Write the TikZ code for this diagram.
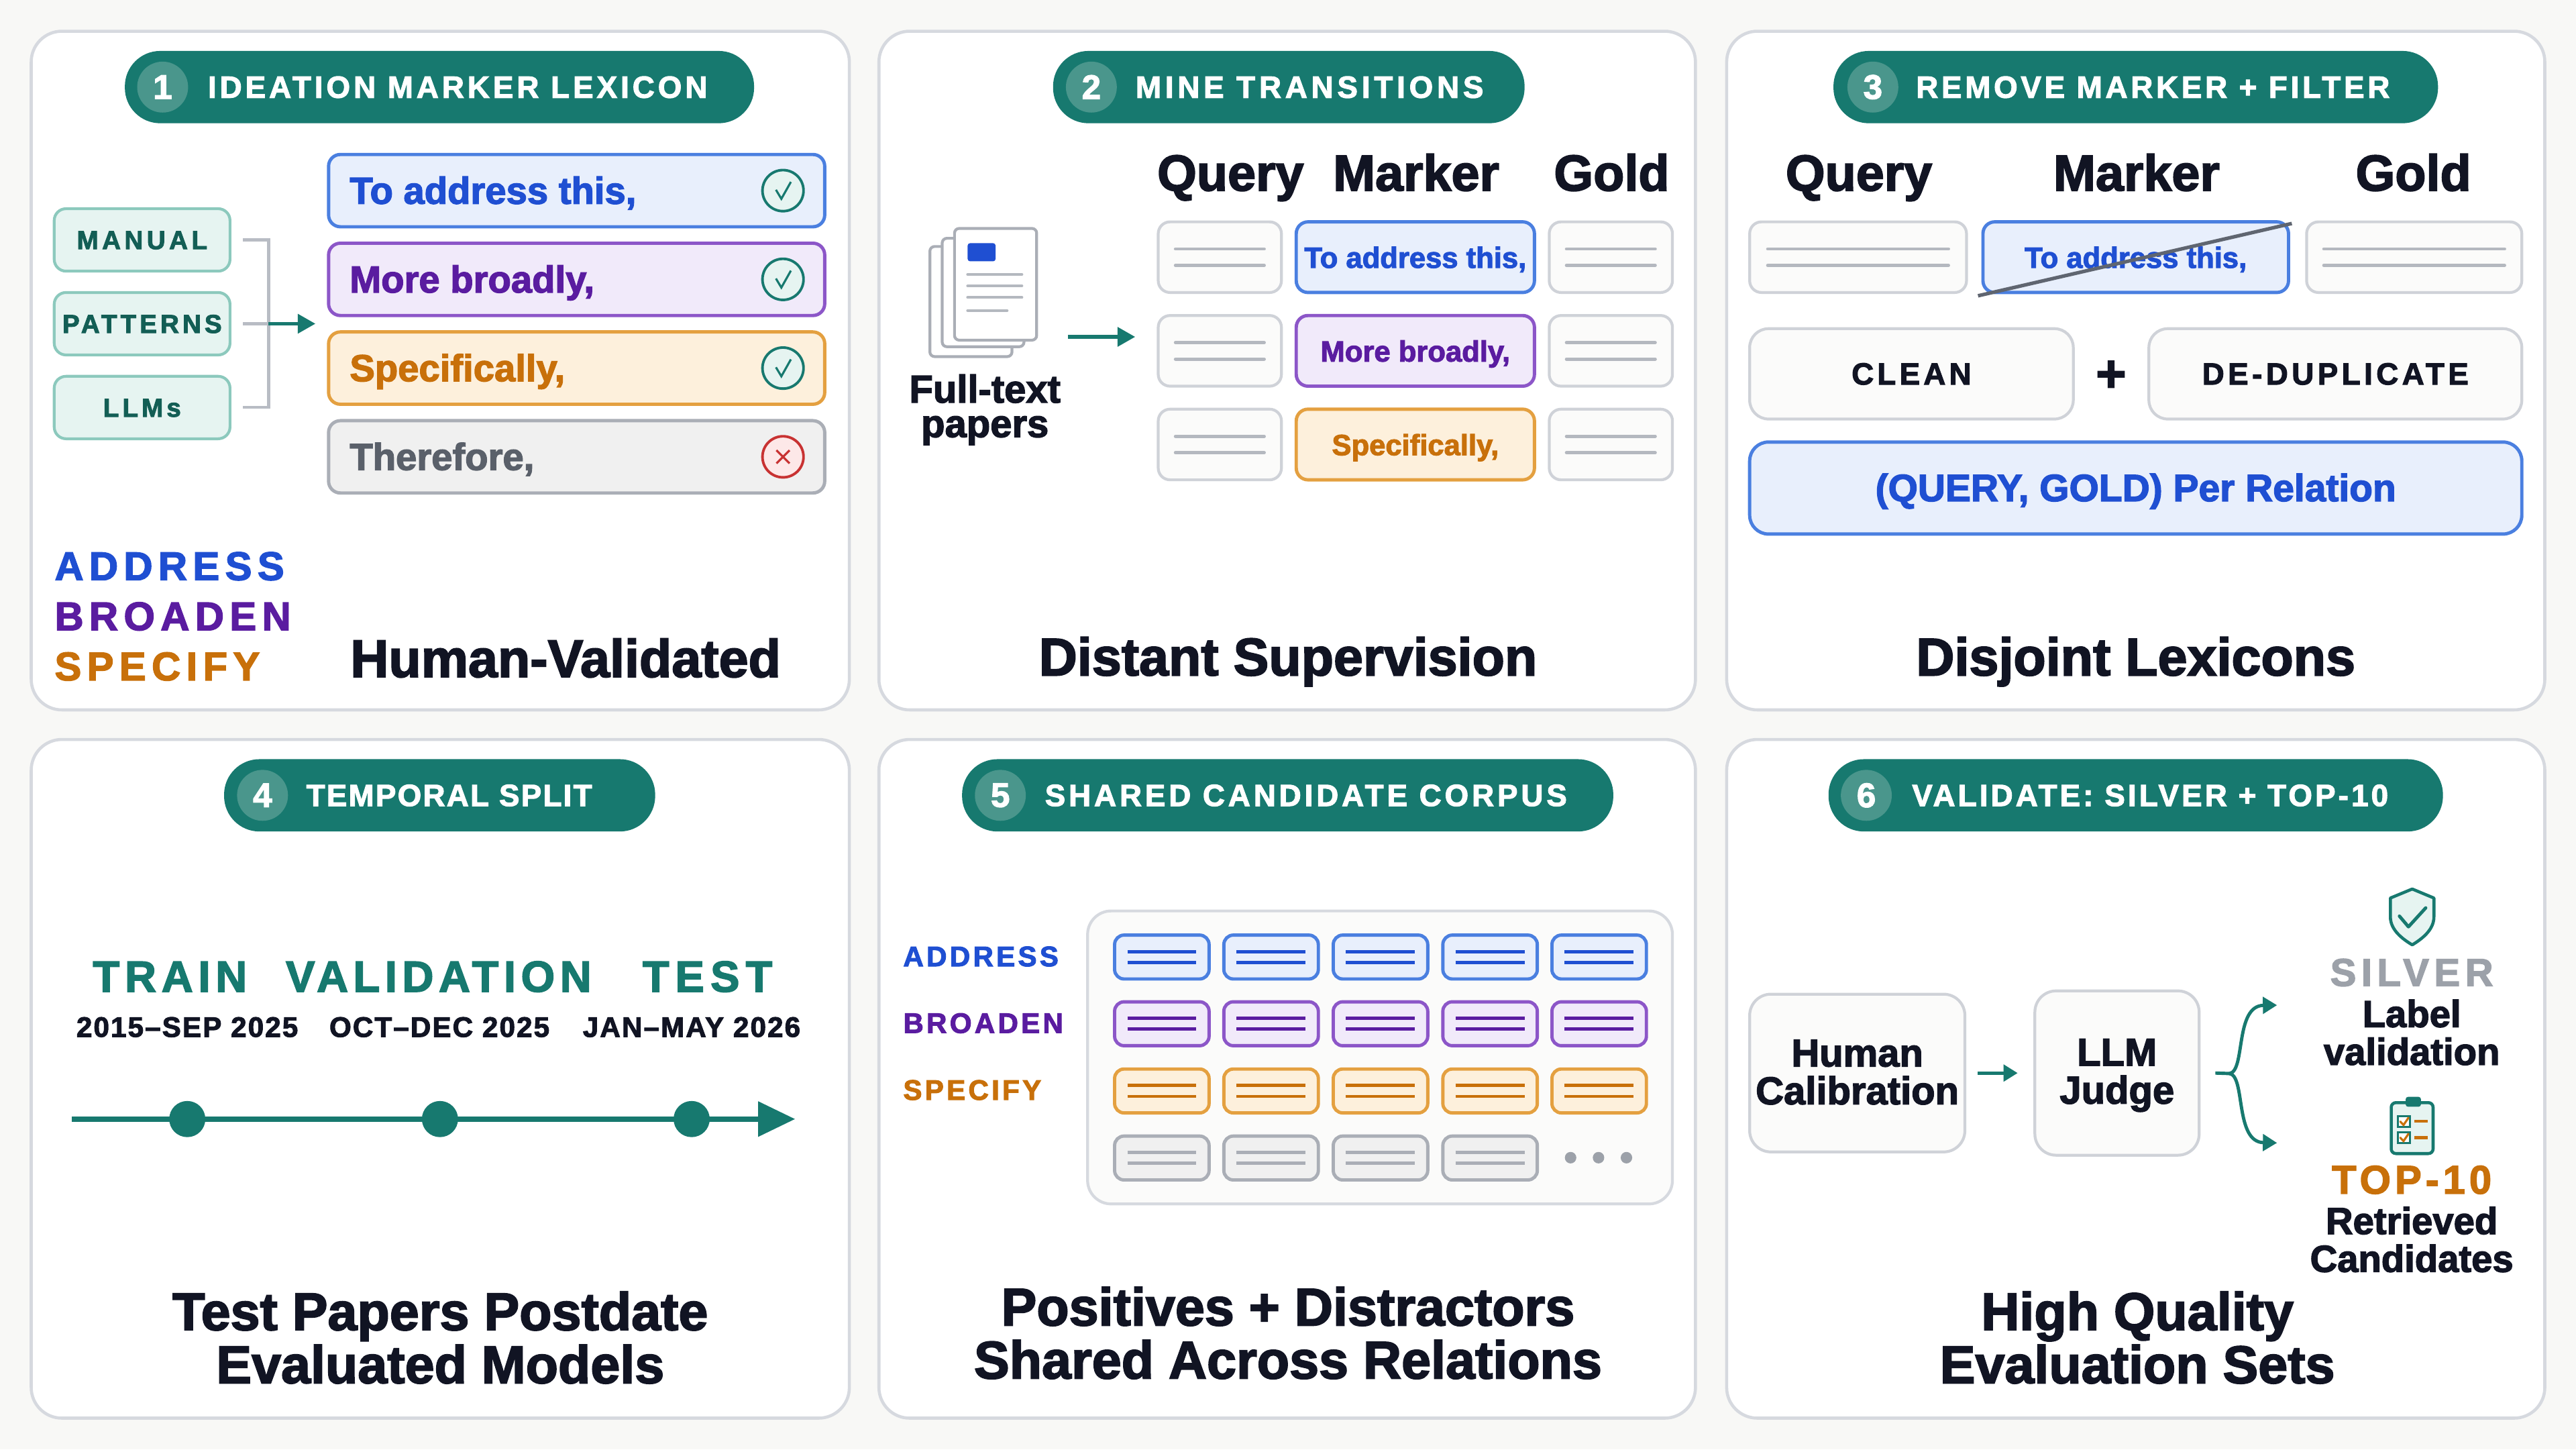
\documentclass[tikz,border=0pt]{standalone}
\usepackage{fontspec}
\setmainfont{LiberationSans}[Extension=.ttf, UprightFont=*-Regular, BoldFont=*-Bold, ItalicFont=*-Italic, BoldItalicFont=*-BoldItalic, BoldFeatures={FakeBold=2.4}]
\usetikzlibrary{arrows.meta,calc}
\newcommand\U{0.0244898cm}
\newcommand\fz[1]{\fontsize{#1}{#1}\selectfont\bfseries}
\newcommand\trk[3]{{\fontsize{#1}{#1}\selectfont\bfseries\addfontfeatures{LetterSpace=#2}#3}}
\newcommand\twol[4]{\draw[#4] ($(#1)+(-#2,-#3)$) -- ($(#1)+(#2,-#3)$) ($(#1)+(-#2,#3)$) -- ($(#1)+(#2,#3)$);}
\definecolor{teal1}{RGB}{23,121,111}
\definecolor{tealc}{RGB}{74,150,140}
\definecolor{mint}{RGB}{230,244,241}
\definecolor{mintb}{RGB}{140,201,189}
\definecolor{tealdk}{RGB}{19,94,85}
\definecolor{bg}{RGB}{248,248,246}
\definecolor{pbord}{RGB}{214,217,223}
\definecolor{ink}{RGB}{17,20,35}
\definecolor{bluet}{RGB}{31,79,210}
\definecolor{blueb}{RGB}{74,127,224}
\definecolor{bluef}{RGB}{232,239,252}
\definecolor{purt}{RGB}{90,28,160}
\definecolor{purb}{RGB}{140,86,200}
\definecolor{purf}{RGB}{241,234,250}
\definecolor{oran}{RGB}{200,112,10}
\definecolor{oranb}{RGB}{228,160,64}
\definecolor{oranf}{RGB}{253,240,220}
\definecolor{grt}{RGB}{90,96,106}
\definecolor{grb}{RGB}{170,174,182}
\definecolor{grf}{RGB}{240,240,240}
\definecolor{cellb}{RGB}{207,210,216}
\definecolor{cellf}{RGB}{251,251,250}
\definecolor{linec}{RGB}{180,184,191}
\definecolor{brkc}{RGB}{184,188,196}
\definecolor{redc}{RGB}{200,50,50}
\definecolor{redf}{RGB}{253,232,232}
\definecolor{silver}{RGB}{156,161,169}
\definecolor{strk}{RGB}{95,101,112}
\tikzset{
 panel/.style={draw=pbord, fill=white, line width=1.3pt, rounded corners=13pt, inner sep=0},
 sz/.style 2 args={minimum width=#1*\U, minimum height=#2*\U},
 pill/.style={fill=teal1, rounded corners=15pt, inner sep=0},
 numc/.style={circle, fill=tealc, inner sep=0, minimum size=31*\U, text=white, font=\fz{14.5}},
 pilltxt/.style={anchor=base west, inner sep=0, text=white},
 src/.style={draw=mintb, fill=mint, line width=1.2pt, rounded corners=5pt, inner sep=0},
 mk/.style 2 args={draw=#1, fill=#2, line width=1.4pt, rounded corners=5pt, inner sep=0},
 gcell/.style={draw=cellb, fill=cellf, line width=1.2pt, rounded corners=5pt, inner sep=0},
 glin/.style={draw=linec, line width=1.4pt, line cap=round},
 txt/.style={inner sep=0, anchor=base, text=ink},
 arr/.style={draw=teal1, line width=1.6pt, -{Triangle[length=7.5pt,width=8pt]}},
 arrs/.style={draw=teal1, line width=1.4pt, -{Triangle[length=6pt,width=7pt]}},
 brk/.style={draw=brkc, line width=1.2pt},
 okc/.style={circle, draw=teal1, fill=mint, line width=1.1pt, minimum size=25*\U, inner sep=0},
 noc/.style={circle, draw=redc, fill=redf, line width=1.1pt, minimum size=25*\U, inner sep=0},
 chk/.style={draw=teal1, line width=0.9pt},
 docs/.style={draw=grb, fill=white, line width=1.2pt, rounded corners=2pt},
 dotn/.style={circle, fill=teal1, minimum size=22*\U, inner sep=0},
}
\begin{document}
\begin{tikzpicture}[x=\U, y=-\U]
\useasboundingbox (0,0) rectangle (1568,882);
\fill[bg] (0,0) rectangle (1568,882);

% ================= Panel 1 =================
\node[panel, sz={498}{413}] (p1) at (268,225.5) {};
\node[pill, sz={383}{44}] (h1) at (267.5,53) {};
\node[numc] (n1) at (99,53) {1};
\node[pilltxt] (t1) at (126.3,59.5) {\trk{13}{11}{IDEATION MARKER LEXICON}};

\node[src, sz={107}{38}] (man) at (86.5,146) {};
\node[txt, text=tealdk] (manl) at (86.5,151.6) {\trk{11}{14}{MANUAL}};
\node[src, sz={107}{38}] (pat) at (86.5,197) {};
\node[txt, text=tealdk] (patl) at (86.5,202.6) {\trk{11}{13}{PATTERNS}};
\node[src, sz={107}{38}] (llms) at (86.5,248) {};
\node[txt, text=tealdk] (llmsl) at (86.5,253.6) {\trk{11}{13}{LLMs}};
\coordinate (brkp) at (163.5,197);
\coordinate (arrend) at (192,197);
\draw[brk] ([xshift=7*\U]man.east) -| (brkp) |- ([xshift=7*\U]llms.east);
\draw[brk] ([xshift=7*\U]pat.east) -- (brkp);
\draw[arr] (brkp) -- (arrend);

\node[mk={blueb}{bluef}, sz={302}{44}] (m1) at (351,116) {};
\node[txt, anchor=base west, text=bluet] (m1t) at (212.6,124) {\fz{16}To address this,};
\node[okc] (k1) at (476.6,116) {};
\draw[chk] (472.3,115.5) -- (475.6,121) -- (481.4,110.7);

\node[mk={purb}{purf}, sz={302}{44}] (m2) at (351,170) {};
\node[txt, anchor=base west, text=purt] (m2t) at (212.6,178) {\fz{16}More broadly,};
\node[okc] (k2) at (476.6,170) {};
\draw[chk] (472.3,169.5) -- (475.6,175) -- (481.4,164.7);

\node[mk={oranb}{oranf}, sz={302}{44}] (m3) at (351,224) {};
\node[txt, anchor=base west, text=oran] (m3t) at (212.6,232) {\fz{16}Specifically,};
\node[okc] (k3) at (476.6,224) {};
\draw[chk] (472.3,223.5) -- (475.6,229) -- (481.4,218.7);

\node[mk={grb}{grf}, sz={302}{44}] (m4) at (351,278) {};
\node[txt, anchor=base west, text=grt] (m4t) at (212.6,286) {\fz{16}Therefore,};
\node[noc] (k4) at (476.6,278) {};
\draw[redc, line width=0.9pt] (472.6,274) -- (480.6,282) (472.6,282) -- (480.6,274);

\node[txt, anchor=base west, text=bluet] (rel1) at (33,353) {\trk{17}{14}{ADDRESS}};
\node[txt, anchor=base west, text=purt] (rel2) at (33,383.5) {\trk{17}{14}{BROADEN}};
\node[txt, anchor=base west, text=oran] (rel3) at (33,414) {\trk{17}{14}{SPECIFY}};
\node[txt, anchor=base west] (f1) at (213,412) {\fz{22.5}Human-Validated};

% ================= Panel 2 =================
\node[panel, sz={497}{413}] (p2) at (783.5,225.5) {};
\node[pill, sz={287}{44}] (h2) at (784.5,53) {};
\node[numc] (n2) at (664.3,53) {2};
\node[pilltxt] (t2) at (691,59.5) {\trk{13}{12.8}{MINE TRANSITIONS}};

\node[txt] (hq2) at (749,116) {\fz{21.5}Query};
\node[txt] (hm2) at (862,116) {\fz{21.5}Marker};
\node[txt] (hg2) at (981,116) {\fz{21.5}Gold};

\draw[docs] (566,150) rectangle (616,217);
\draw[docs] (573.5,145) rectangle (623.3,211);
\draw[docs] (581,139) rectangle (631,207);
\fill[bluet, rounded corners=1pt] (589,148) rectangle (606,159);
\draw[glin, line width=1.2pt] (589,167) -- (622,167) (589,174) -- (622,174) (589,181) -- (622,181) (589,189) -- (613,189);
\node[txt] (ft1) at (599.5,245) {\fz{16.5}Full-text};
\node[txt] (ft2) at (599.5,266) {\fz{16.5}papers};
\coordinate (a2s) at (650,205);
\coordinate (a2e) at (691,205);
\draw[arr] (a2s) -- (a2e);

\foreach \r/\y in {1/156.5,2/213.5,3/270.5}{
  \node[gcell, sz={75}{43}] (q\r) at (742.5,\y) {};
  \node[gcell, sz={75}{43}] (g\r) at (980.5,\y) {};
  \twol{q\r}{27}{5}{glin}
  \twol{g\r}{27}{5}{glin}
}
\node[mk={blueb}{bluef}, sz={145}{43}] (mm1) at (861.5,156.5) {};
\node[txt, text=bluet] (mm1t) at (861.5,163) {\fz{12.4}To address this,};
\node[mk={purb}{purf}, sz={145}{43}] (mm2) at (861.5,213.5) {};
\node[txt, text=purt] (mm2t) at (861.5,220) {\fz{12.4}More broadly,};
\node[mk={oranb}{oranf}, sz={145}{43}] (mm3) at (861.5,270.5) {};
\node[txt, text=oran] (mm3t) at (861.5,277) {\fz{12.4}Specifically,};
\node[txt] (f2) at (784,411) {\fz{22.5}Distant Supervision};

% ================= Panel 3 =================
\node[panel, sz={498}{413}] (p3) at (1300,225.5) {};
\node[pill, sz={368}{44}] (h3) at (1300,53) {};
\node[numc] (n3) at (1140,53) {3};
\node[pilltxt] (t3) at (1166,59.5) {\trk{13}{10.5}{REMOVE MARKER + FILTER}};

\node[txt] (hq3) at (1131.5,116) {\fz{21.5}Query};
\node[txt] (hm3) at (1300.5,116) {\fz{21.5}Marker};
\node[txt] (hg3) at (1469,116) {\fz{21.5}Gold};

\node[gcell, sz={132}{43}] (q3c) at (1131,156.5) {};
\twol{q3c}{55}{5}{glin}
\node[mk={blueb}{bluef}, sz={186}{43}] (mk3) at (1300,156.5) {};
\node[txt, text=bluet] (mk3t) at (1300,163) {\fz{12.4}To address this,};
\node[gcell, sz={131}{43}] (g3c) at (1469.5,156.5) {};
\twol{g3c}{55}{5}{glin}
\coordinate (s0) at (1204,180);
\coordinate (s1) at (1395,136);
\draw[strk, line width=1.5pt] (s0) -- (s1);

\node[gcell, sz={197}{55}, rounded corners=8pt] (cl) at (1163.5,227.5) {};
\node[txt] (clt) at (1163.5,234) {\trk{13}{11.5}{CLEAN}};
\node[inner sep=0, text=ink] (plus) at (1285,229) {\fz{22}+};
\node[gcell, sz={227}{55}, rounded corners=8pt] (dd) at (1421.5,227.5) {};
\node[txt] (ddt) at (1421.5,234) {\trk{13}{12}{DE-DUPLICATE}};
\node[mk={blueb}{bluef}, sz={470}{56}, rounded corners=8pt] (qg) at (1300,297) {};
\node[txt, text=bluet] (qgt) at (1300,305) {\fz{16.2}(QUERY, GOLD) Per Relation};
\node[txt] (f3) at (1300,411) {\fz{22.5}Disjoint Lexicons};

% ================= Panel 4 =================
\node[panel, sz={498}{413}] (p4) at (268,656.5) {};
\node[pill, sz={262.4}{44}] (h4) at (267.6,484) {};
\node[numc] (n4) at (159.8,484) {4};
\node[pilltxt] (t4) at (186.2,490.5) {\trk{13}{5}{TEMPORAL SPLIT}};

\node[txt, text=teal1] (tr) at (103.5,603.5) {\trk{18.5}{12}{TRAIN}};
\node[txt, text=teal1] (va) at (267,603.5) {\trk{18.5}{11.6}{VALIDATION}};
\node[txt, text=teal1] (te) at (430.6,603.5) {\trk{18.5}{14}{TEST}};
\node[txt] (dt1) at (114,631) {\trk{12}{5}{2015–SEP 2025}};
\node[txt] (dt2) at (267.5,631) {\trk{12}{5}{OCT–DEC 2025}};
\node[txt] (dt3) at (421,631) {\trk{12}{5}{JAN–MAY 2026}};
\coordinate (tl0) at (43.7,681);
\coordinate (tl1) at (484,681);
\draw[teal1, line width=2.2pt, -{Triangle[length=15.7pt,width=14.5pt]}] (tl0) -- (tl1);
\node[dotn] (d1) at (114,681) {};
\node[dotn] (d2) at (267.8,681) {};
\node[dotn] (d3) at (421,681) {};
\node[txt] (f4a) at (268,809.4) {\fz{22.5}Test Papers Postdate};
\node[txt] (f4b) at (268,841.7) {\fz{22.5}Evaluated Models};

% ================= Panel 5 =================
\node[panel, sz={497}{413}] (p5) at (783.5,656.5) {};
\node[pill, sz={396.4}{44}] (h5) at (783.8,484) {};
\node[numc] (n5) at (608.9,484) {5};
\node[pilltxt] (t5) at (635.8,490.5) {\trk{13}{10.8}{SHARED CANDIDATE CORPUS}};

\node[txt, anchor=base west, text=bluet] (la) at (549.5,588) {\trk{12}{10}{ADDRESS}};
\node[txt, anchor=base west, text=purt] (lb) at (549.5,628.6) {\trk{12}{10}{BROADEN}};
\node[txt, anchor=base west, text=oran] (ls) at (549.5,669.3) {\trk{12}{10}{SPECIFY}};
\node[draw=pbord, fill=cellf, line width=1.2pt, rounded corners=10pt, inner sep=0, sz={356}{178.3}] (cont) at (840,643.5) {};
\foreach \c/\x in {1/707.2,2/773.7,3/840.3,4/907,5/973.4}{
  \foreach \r/\y/\bc/\fc/\lc in {1/582.4/blueb/bluef/bluet,2/623/purb/purf/purt,3/663.9/oranb/oranf/oran}{
    \node[mk={\bc}{\fc}, sz={57.5}{26.7}, rounded corners=4pt] (c\r\c) at (\x,\y) {};
    \twol{c\r\c}{21}{3.3}{draw=\lc, line width=1.4pt}
  }
}
\foreach \c/\x in {1/707.2,2/773.7,3/840.3,4/907}{
  \node[mk={grb}{grf}, sz={57.5}{26.7}, rounded corners=4pt] (c4\c) at (\x,704.7) {};
  \twol{c4\c}{21}{3.3}{draw=grb, line width=1.4pt}
}
\foreach \x [count=\i] in {956,973,990}{
  \node[circle, fill=silver, minimum size=7*\U, inner sep=0] (dot\i) at (\x,704.5) {};
}
\node[txt] (f5a) at (784,806.6) {\fz{22.5}Positives + Distractors};
\node[txt] (f5b) at (784,838.9) {\fz{22.5}Shared Across Relations};

% ================= Panel 6 =================
\node[panel, sz={498}{413}] (p6) at (1300,656.5) {};
\node[pill, sz={374}{44}] (h6) at (1300,484) {};
\node[numc] (n6) at (1136,484) {6};
\node[pilltxt] (t6) at (1163.6,490.5) {\trk{13}{9.1}{VALIDATE: SILVER + TOP-10}};

\node[gcell, sz={131}{96}, rounded corners=9pt] (hum) at (1130.5,653) {};
\node[txt] (hum1) at (1130.5,649) {\fz{16.5}Human};
\node[txt] (hum2) at (1130.5,672) {\fz{16.5}Calibration};
\node[gcell, sz={100}{100}, rounded corners=9pt] (llm) at (1288.6,653) {};
\node[txt] (llm1) at (1288.6,648.5) {\fz{16.5}LLM};
\node[txt] (llm2) at (1288.6,671.6) {\fz{16.5}Judge};
\draw[arrs] ([xshift=7*\U]hum.east) -- ([xshift=-9.6*\U]llm.west);

\coordinate (fk) at (1357,653.3);
\coordinate (ftop) at (1386,611.7);
\coordinate (fbot) at (1386,695.5);
\draw[teal1, line width=1.4pt] ([xshift=9*\U]llm.east) -- (fk);
\draw[arrs] (fk) .. controls (1367,652) and (1360,612) .. (ftop);
\draw[arrs] (fk) .. controls (1367,654.6) and (1360,695) .. (fbot);

% shield icon
\draw[teal1, fill=mint, line width=1.3pt, line join=round] (1468.3,541) -- (1481.5,546.5) -- (1481.5,558) .. controls (1481.5,566) and (1474,571.5) .. (1468.3,575) .. controls (1462.5,571.5) and (1455,566) .. (1455,558) -- (1455,546.5) -- cycle;
\draw[teal1, line width=1.4pt, line cap=round, line join=round] (1460.5,557.5) -- (1466,564) -- (1476.5,552.5);
\node[txt, text=silver] (sil) at (1468,600) {\trk{16.5}{13}{SILVER}};
\node[txt] (lab1) at (1468,625) {\fz{16}Label};
\node[txt] (lab2) at (1468,648) {\fz{16}validation};

% clipboard icon
\draw[teal1, fill=mint, line width=1.3pt, rounded corners=2pt] (1455.5,671) rectangle (1481,702);
\fill[teal1, rounded corners=1pt] (1464.3,667.5) rectangle (1473.6,673.5);
\draw[teal1, line width=0.8pt, fill=white] (1459.6,679.2) rectangle (1467,685.7);
\draw[teal1, line width=0.8pt, fill=white] (1459.6,689) rectangle (1467,695.6);
\draw[oran, line width=0.9pt, line cap=round] (1461,682.5) -- (1463,684.6) -- (1466,680.2);
\draw[oran, line width=0.9pt, line cap=round] (1461,692.3) -- (1463,694.4) -- (1466,690);
\draw[oran, line width=1.3pt] (1469.6,682.3) -- (1477.6,682.3) (1469.6,692.2) -- (1477.6,692.2);

\node[txt, text=oran] (top) at (1468,726.4) {\trk{17}{10}{TOP-10}};
\node[txt] (ret1) at (1468,751) {\fz{16}Retrieved};
\node[txt] (ret2) at (1468,774) {\fz{16}Candidates};
\node[txt] (f6a) at (1301,809.4) {\fz{22.5}High Quality};
\node[txt] (f6b) at (1301,841.7) {\fz{22.5}Evaluation Sets};
\end{tikzpicture}
\end{document}
